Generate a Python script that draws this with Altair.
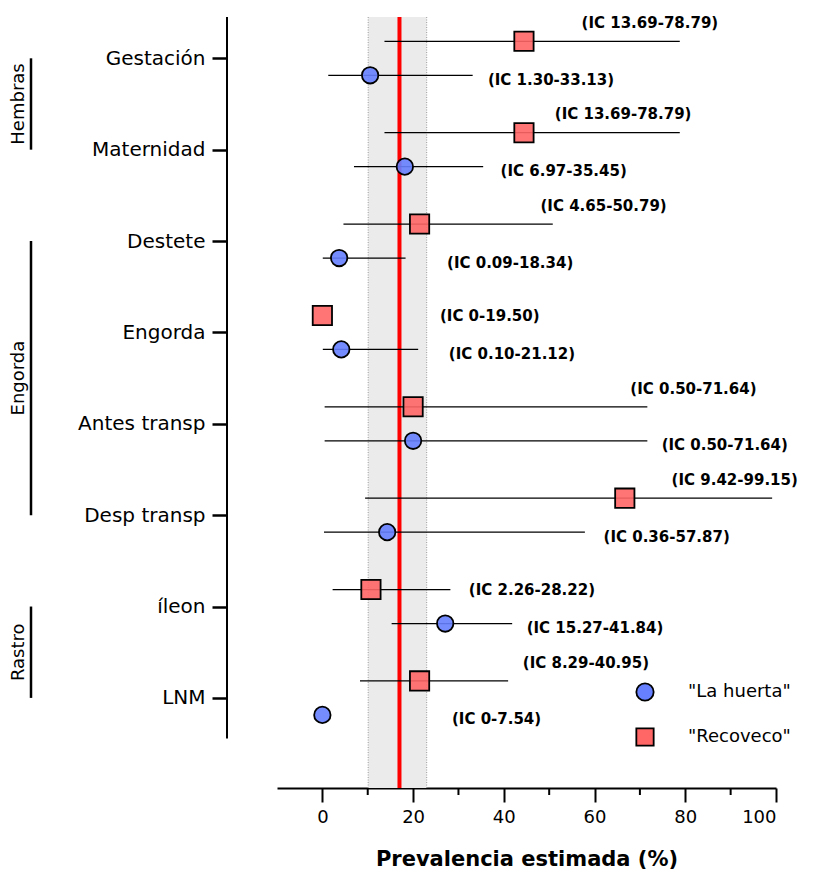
import json

import altair as alt
import pandas as pd

# ---- data -------------------------------------------------------------
categories = ["Gestación", "Maternidad", "Destete", "Engorda",
              "Antes transp", "Desp transp", "íleon", "LNM"]
series_names = ["La huerta", "Recoveco"]

huerta_prev = [10.53, 18.18, 3.70, 4.17, 20.00, 14.29, 27.08, 0.00]
huerta_lo = [1.30, 6.97, 0.09, 0.10, 0.50, 0.36, 15.27, 0.00]
huerta_hi = [33.13, 35.45, 18.34, 21.12, 71.64, 57.87, 41.84, 7.54]

recoveco_prev = [44.44, 44.44, 21.43, 0.00, 20.00, 66.67, 10.71, 21.43]
recoveco_lo = [13.69, 13.69, 4.65, 0.00, 0.50, 9.42, 2.26, 8.29]
recoveco_hi = [78.79, 78.79, 50.79, 19.50, 71.64, 99.15, 28.22, 40.95]

# overall prevalence and its interval (shaded band)
overall_prev = 17.0
overall_lo = 10.1
overall_hi = 23.0

groups = ["Hembras", "Engorda", "Rastro"]
group_first = [0, 2, 6]
group_last = [1, 5, 7]

x_ticks = [0, 20, 40, 60, 80, 100]
x_minor_ticks = [10, 30, 50, 70, 90]

# where each CI annotation is centred along x (%), and whether the
# Recoveco annotation sits above its whisker
huerta_label_x = [50.4, 53.2, 41.4, 41.8, 88.7, 75.9, 60.1, 38.4]
recoveco_label_x = [72.2, 66.3, 62.0, 36.9, 81.8, 90.9, 46.2, 58.1]
recoveco_label_above = [True, True, True, False, True, True, False, True]

# ---- layout constants ---------------------------------------------------
FONT = "DejaVu Sans"
W, H = 499, 771
ROW_SHIFT = {"La huerta": 0.186, "Recoveco": -0.186}
Y_DOMAIN = [-0.452, 7.986]
Y_AXIS_END = 7.445
BLUE = "#6680ff"
RED = "#ff6666"


def fmt(v):
    return "0" if v == 0 else f"{v:.2f}"


rows = []
for i, cat in enumerate(categories):
    for s, prev, lo, hi, lx in (
        ("La huerta", huerta_prev[i], huerta_lo[i], huerta_hi[i], huerta_label_x[i]),
        ("Recoveco", recoveco_prev[i], recoveco_lo[i], recoveco_hi[i], recoveco_label_x[i]),
    ):
        pos = i + ROW_SHIFT[s]
        if s == "La huerta":
            lpos = pos + 0.05
        else:
            lpos = pos - 0.2 if recoveco_label_above[i] else pos + 0.01
        rows.append(dict(cat=cat, idx=i, series=s, prev=prev, lo=lo, hi=hi,
                         pos=pos, label=f"(IC {fmt(lo)}-{fmt(hi)})",
                         label_x=lx, label_pos=lpos))
df = pd.DataFrame(rows)

band_df = pd.DataFrame({"lo": [overall_lo], "hi": [overall_hi], "prev": [overall_prev]})
edge_df = pd.DataFrame({"v": [overall_lo, overall_hi]})
group_df = pd.DataFrame({"group": groups, "first": group_first, "last": group_last})
minor_df = pd.DataFrame({"t": x_minor_ticks})
yline_df = pd.DataFrame({"top": [Y_DOMAIN[0]], "bottom": [Y_AXIS_END]})

# ---- scales & axes ------------------------------------------------------
x_scale = alt.Scale(domain=[-10, 100], nice=False, zero=False)
y_scale = alt.Scale(domain=Y_DOMAIN, reverse=True, nice=False, zero=False)

x_axis = alt.Axis(
    values=x_ticks, title="Prevalencia estimada (%)", grid=False,
    tickSize=14, tickWidth=2, tickColor="black",
    domainColor="black", domainWidth=2,
    labelFont=FONT, labelFontSize=18, labelColor="black", labelPadding=6,
    titleFont=FONT, titleFontSize=21, titleFontWeight="bold",
    titleColor="black", titlePadding=22,
)
y_axis = alt.Axis(
    values=list(range(len(categories))),
    labelExpr=json.dumps(categories, ensure_ascii=False) + "[datum.value]",
    offset=50, domain=False, grid=False, title=None,
    tickSize=15, tickWidth=2.5, tickColor="black",
    labelFont=FONT, labelFontSize=20, labelColor="black", labelPadding=7,
)

shape_scale = alt.Scale(domain=series_names, range=["circle", "square"])
fill_scale = alt.Scale(domain=series_names, range=[BLUE, RED])
stroke_scale = alt.Scale(domain=series_names, range=["black", "black"])
legend = alt.Legend(
    orient="none", legendX=358, legendY=665, title=None, padding=0,
    symbolSize=300, symbolStrokeWidth=1.8,
    symbolOpacity=1, labelFont=FONT, labelFontSize=18, labelColor="black",
    labelOffset=33, rowPadding=19,
    labelExpr="'\"' + datum.label + '\"'",
)


def X(field):
    return alt.X(field, scale=x_scale, axis=x_axis)


def Y(field):
    return alt.Y(field, scale=y_scale, axis=y_axis)


# ---- layers -------------------------------------------------------------
band = alt.Chart(band_df).mark_rect(color="#ebebeb").encode(x=X("lo:Q"), x2="hi:Q")
edges = alt.Chart(edge_df).mark_rule(color="#9a9a9a", strokeWidth=1, strokeDash=[1, 1.5]).encode(x=X("v:Q"))
mean_line = alt.Chart(band_df).mark_rule(color="#ff0000", strokeWidth=4).encode(x=X("prev:Q"))

minor = alt.Chart(minor_df).mark_rule(color="black", strokeWidth=2).encode(
    x=X("t:Q"), y=alt.value(H), y2=alt.value(H + 7)
)

whiskers = alt.Chart(df).transform_filter("datum.prev > 0").mark_rule(
    color="black", strokeWidth=1.3
).encode(x=X("lo:Q"), x2="hi:Q", y=Y("pos:Q"))


def points(series, size):
    return alt.Chart(df).transform_filter(alt.datum.series == series).mark_point(
        size=size, strokeWidth=1.8, fillOpacity=0.9, opacity=1
    ).encode(
        x=X("prev:Q"), y=Y("pos:Q"),
        shape=alt.Shape("series:N", scale=shape_scale, legend=legend),
        fill=alt.Fill("series:N", scale=fill_scale, legend=legend),
        stroke=alt.Stroke("series:N", scale=stroke_scale, legend=legend),
    )


labels = alt.Chart(df).mark_text(
    font=FONT, fontSize=15, fontWeight="bold", color="black",
    align="center", baseline="middle",
).encode(x=X("label_x:Q"), y=Y("label_pos:Q"), text="label:N")

y_line = alt.Chart(yline_df).mark_rule(color="black", strokeWidth=2).encode(
    x=alt.value(-50), y=Y("top:Q"), y2="bottom:Q"
)
group_lines = alt.Chart(group_df).mark_rule(color="black", strokeWidth=2.5).encode(
    x=alt.value(-246), y=Y("first:Q"), y2="last:Q"
)
group_text = alt.Chart(group_df).transform_calculate(
    mid="(datum.first + datum.last) / 2"
).mark_text(font=FONT, fontSize=18, color="black", angle=270,
            align="center", baseline="middle").encode(
    x=alt.value(-258), y=Y("mid:Q"), text="group:N"
)

chart = alt.layer(
    band, edges, mean_line, minor, whiskers,
    points("La huerta", 270), points("Recoveco", 372),
    labels, y_line, group_lines, group_text,
).properties(
    width=W, height=H,
    autosize=alt.AutoSizeParams(type="none"),
    padding={"left": 277, "top": 17, "right": 49, "bottom": 94},
    background="white",
).configure_view(stroke=None)

chart.save("out.html", embed_options={"renderer": "svg", "actions": False})
